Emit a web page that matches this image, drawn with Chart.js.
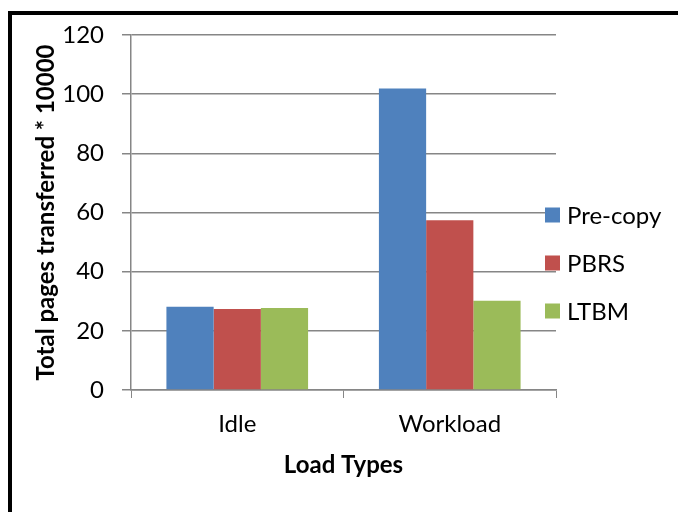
<!DOCTYPE html>
<html>
<head>
<meta charset="utf-8">
<script src="https://cdn.jsdelivr.net/npm/chart.js@4"></script>
<style>
  html, body { margin: 0; padding: 0; background: #fff; }
  #wrap { position: relative; width: 678px; height: 512px; }
  #frame {
    position: absolute; left: 8px; top: 11px; right: 0; bottom: 0;
    border-left: 4px solid #000; border-top: 4px solid #000;
  }
  #barChart { position: absolute; left: 0; top: 0; }
</style>
</head>
<body>
<div id="wrap">
  <div id="frame"></div>
  <canvas id="barChart" width="678" height="512"></canvas>
</div>
<script>
// data
const categories = ['Idle', 'Workload'];
const seriesNames = ['Pre-copy', 'PBRS', 'LTBM'];
const preCopy = [28.1, 101.9];
const pbrs = [27.4, 57.4];
const ltbm = [27.7, 30.2];
const yTicks = [0, 20, 40, 60, 80, 100, 120];

const colors = ['#4F81BD', '#C0504D', '#9BBB59'];
const gridGray = '#868686';
const FONT = 'Lato, "Open Sans", sans-serif';

// legend drawn like Excel's, to the right of the plot
const sideLegend = {
    id: 'sideLegend',
    afterDraw(chart) {
        const ctx = chart.ctx;
        const area = chart.chartArea;
        const x = area.right - 11;
        const midY = 263;
        const step = 48;
        const n = chart.data.datasets.length;
        ctx.save();
        ctx.font = '24px ' + FONT;
        ctx.textBaseline = 'middle';
        ctx.textAlign = 'left';
        chart.data.datasets.forEach((ds, i) => {
            const y = midY + (i - (n - 1) / 2) * step;
            ctx.fillStyle = ds.backgroundColor;
            ctx.fillRect(x, y - 7.5, 15, 15);
            ctx.fillStyle = '#000';
            ctx.fillText(ds.label, x + 22, y + 1);
        });
        ctx.restore();
    }
};

const seriesValues = [preCopy, pbrs, ltbm];

new Chart(document.getElementById('barChart'), {
    type: 'bar',
    data: {
        labels: categories,
        datasets: seriesNames.map((name, i) => ({
            label: name,
            data: seriesValues[i],
            backgroundColor: colors[i],
            borderWidth: 0,
            categoryPercentage: 3 / 4.5,
            barPercentage: 1.0,
        }))
    },
    plugins: [sideLegend],
    options: {
        responsive: false,
        animation: false,
        layout: {
            padding: { left: 14, right: 122, top: 35, bottom: 20 }
        },
        plugins: {
            legend: { display: false },
            tooltip: { enabled: false }
        },
        scales: {
            x: {
                afterFit: (scale) => { scale.height = 102; },
                grid: {
                    display: true,
                    drawOnChartArea: false,
                    drawTicks: true,
                    tickLength: 8,
                    tickColor: gridGray,
                    offset: true,
                },
                border: { display: true, color: gridGray, width: 1.5 },
                ticks: {
                    color: '#000',
                    font: { family: FONT, size: 24 },
                    padding: 12,
                },
                title: {
                    display: true,
                    text: 'Load Types',
                    color: '#000',
                    font: { family: FONT, size: 24, weight: 'bold' },
                    padding: { top: 0, bottom: 12 }
                }
            },
            y: {
                min: 0,
                max: 120,
                afterFit: (scale) => { scale.width = 117; },
                afterBuildTicks: (scale) => {
                    scale.ticks = yTicks.map(v => ({ value: v }));
                },
                grid: {
                    color: gridGray,
                    lineWidth: 1.5,
                    drawTicks: true,
                    tickLength: 9,
                    tickColor: gridGray,
                },
                border: { display: true, color: gridGray, width: 1.5 },
                ticks: {
                    color: '#000',
                    font: { family: FONT, size: 24 },
                    padding: 18,
                },
                title: {
                    display: true,
                    text: 'Total pages transferred * 10000',
                    color: '#000',
                    font: { family: FONT, size: 24, weight: 'bold' },
                    padding: { top: 18, bottom: 0 }
                }
            }
        }
    }
});
</script>
</body>
</html>
